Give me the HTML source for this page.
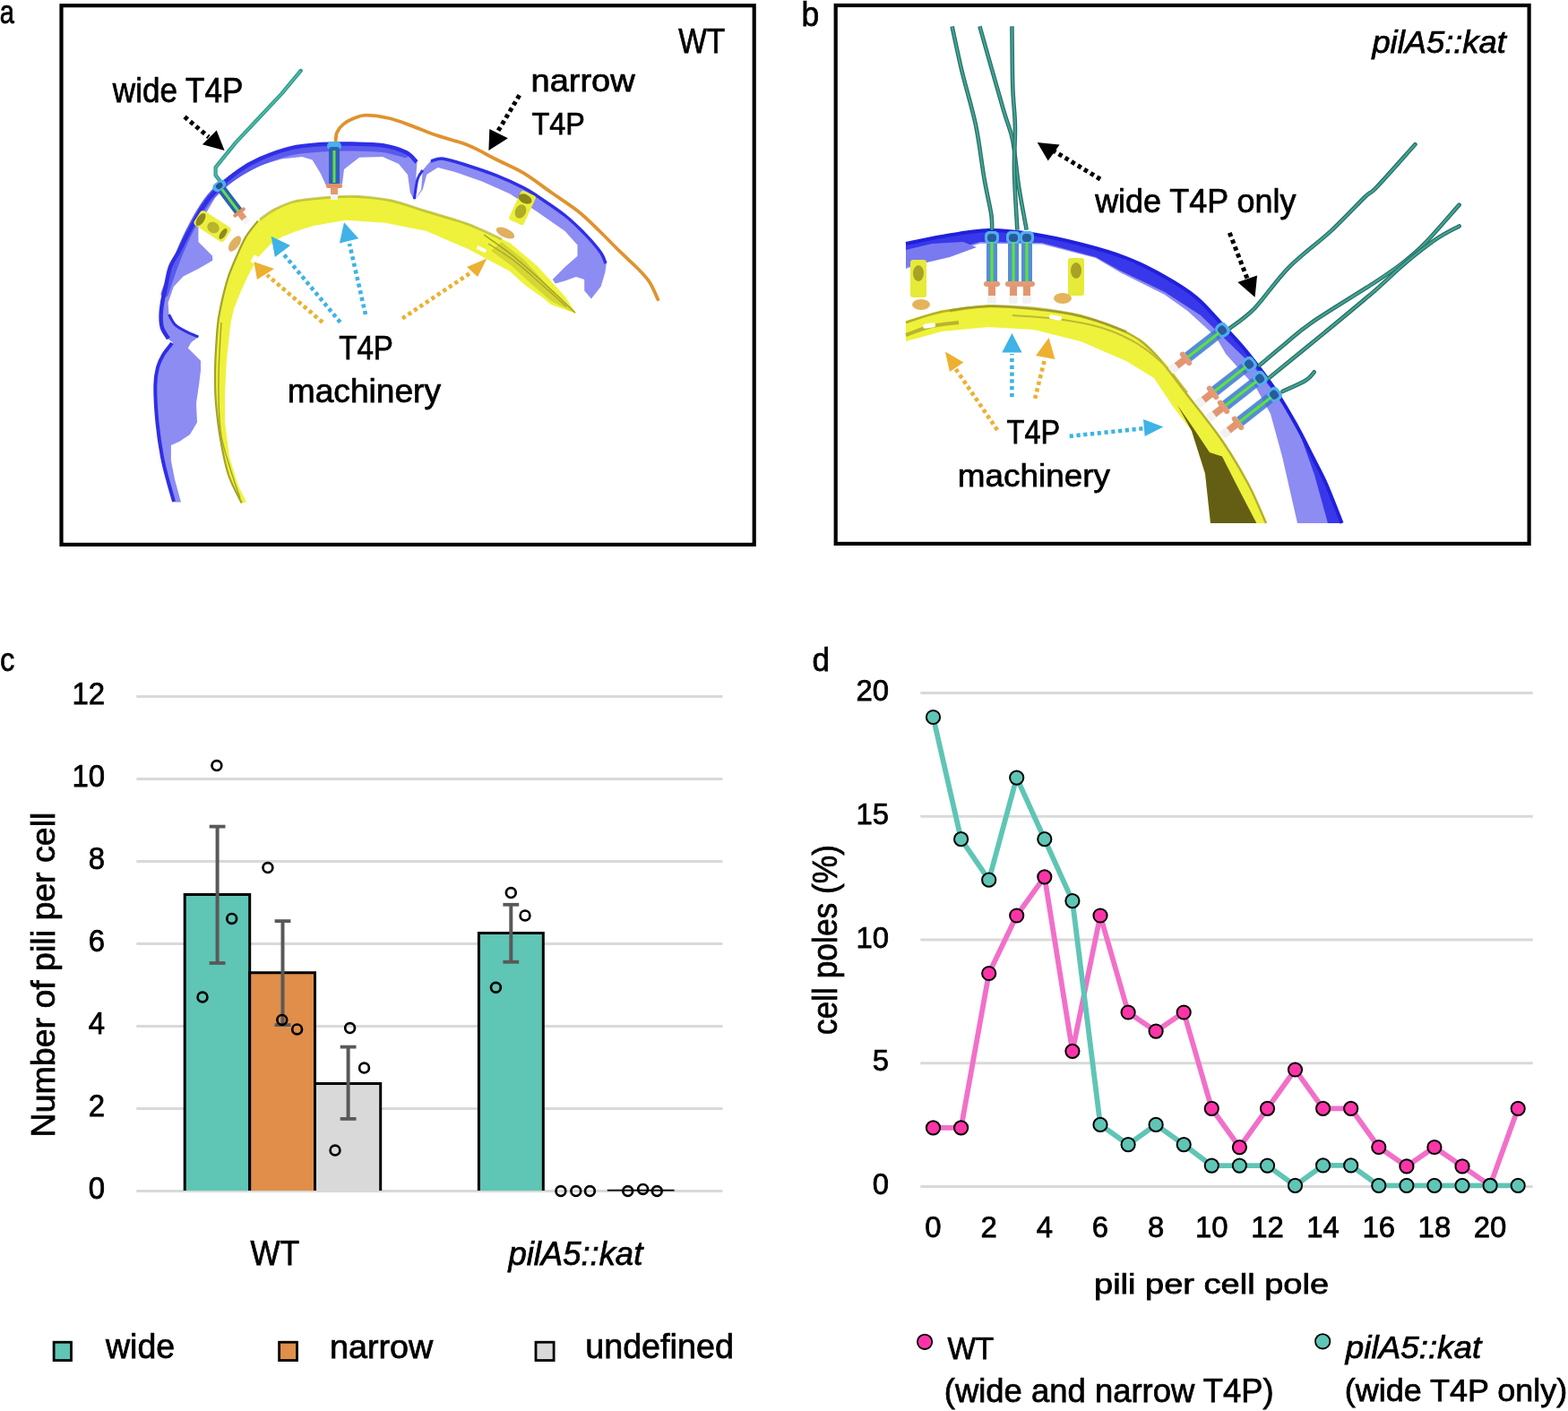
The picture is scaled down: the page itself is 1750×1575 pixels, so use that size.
<!DOCTYPE html>
<html><head><meta charset="utf-8"><title>Figure</title>
<style>html,body{margin:0;padding:0;background:#fff;} svg{display:block;}</style></head>
<body><svg width="1750" height="1575" viewBox="0 0 1750 1575" style="font-family:'Liberation Sans', sans-serif;fill:#000"><style>text{stroke:#000;stroke-width:0.75px;paint-order:stroke}</style>
<rect width="1750" height="1575" fill="#fff"/>
<polygon points="194.3,560.6 188.0,540.0 182.0,515.0 178.0,490.0 175.4,471.0 173.3,440.0 173.3,420.0 174.2,413.5 182.2,395.7 192.9,382.3 186.7,377.9 181.4,369.0 179.6,355.6 181.4,337.8 184.9,320.0 190.2,297.8 200.0,280.0 209.4,261.4 218.0,245.0 226.6,230.6 242.0,211.7 266.0,191.1 290.0,177.4 324.3,165.4 358.6,161.1 392.9,160.6 427.1,162.3 453.1,170.1 465.5,180.9 462.4,224.1 470.1,211.7 471.7,190.1 480.9,179.3 494.8,176.2 522.6,184.0 553.4,194.7 584.3,208.6 599.7,217.9 630.6,239.5 653.7,261.1 670.7,281.2 676.9,293.5 675.3,304.3 670.7,319.7 659.9,333.6 652.2,324.4 652.2,312.0 642.9,308.9 630.6,313.6 619.8,316.6 616.7,312.0 630.6,298.1 644.5,285.8 644.5,273.4 630.6,258.0 599.7,236.4 568.9,216.3 538.0,202.5 507.1,191.7 488.6,187.0 476.3,194.7 471.7,211.7 462.4,224.1 457.8,214.8 455.0,195.0 445.0,183.0 427.0,175.0 401.0,175.7 384.0,189.0 382.0,205.0 375.0,208.0 363.7,206.6 357.7,193.4 348.6,178.6 337.1,175.1 314.3,177.4 291.4,184.3 268.6,195.7 251.4,209.4 240.0,220.9 230.0,238.0 221.4,252.9 221.4,270.0 236.9,285.4 237.4,290.7 222.3,299.6 204.5,308.5 193.8,320.0 187.6,337.8 188.5,351.2 195.6,362.7 208.9,370.7 221.4,376.1 213.4,382.3 209.8,388.5 217.8,396.5 224.0,402.8 224.0,413.5 222.0,430.0 219.0,450.0 220.0,471.4 212.0,485.0 200.0,493.0 190.9,497.0 190.9,514.3 195.0,535.0 202.0,560.6" fill="#8c8cf3"/>
<path d="M183.7,328.0 C185.7,322.3 191.4,305.0 195.7,294.0 C200.0,283.0 204.2,272.5 209.4,262.0 C214.6,251.5 221.2,239.3 226.6,231.0 C232.0,222.7 235.4,218.2 242.0,212.0 C248.6,205.8 258.0,199.2 266.0,194.0 C274.0,188.8 280.3,185.1 290.0,181.0 C299.7,176.9 312.6,172.1 324.0,169.5 C335.4,166.9 347.1,166.3 358.6,165.5 C370.1,164.7 381.5,164.4 392.9,164.5 C404.3,164.6 417.1,164.8 427.0,166.0 C436.9,167.2 447.8,171.0 452.0,172.0" fill="none" stroke="#5a5aee" stroke-width="8" stroke-linecap="round"/>
<path d="M194.0,560.0 C192.0,552.5 185.1,529.8 182.0,515.0 C178.9,500.2 176.8,485.2 175.4,471.0 C174.0,456.8 173.2,440.2 173.3,430.0 C173.4,419.8 174.5,415.7 176.0,410.0 C177.5,404.3 179.5,400.5 182.2,396.0 C184.9,391.5 190.4,385.2 192.0,383.0" fill="none" stroke="#2f2fe4" stroke-width="4"/>
<path d="M188.0,378.0 C186.8,376.0 182.4,370.3 181.0,366.0 C179.6,361.7 179.5,357.0 179.6,352.0 C179.7,347.0 180.5,341.3 181.4,336.0 C182.3,330.7 183.6,326.3 185.0,320.0 C186.4,313.7 187.5,304.7 190.0,298.0 C192.5,291.3 196.8,286.1 200.0,280.0 C203.2,273.9 205.0,269.6 209.4,261.4 C213.8,253.2 221.2,238.9 226.6,230.6 C232.0,222.3 235.4,218.3 242.0,211.7 C248.6,205.1 258.0,196.8 266.0,191.1 C274.0,185.4 280.3,181.7 290.0,177.4 C299.7,173.1 312.9,168.1 324.3,165.4 C335.7,162.7 347.2,161.9 358.6,161.1 C370.0,160.3 381.5,160.4 392.9,160.6 C404.3,160.8 417.1,160.7 427.1,162.3 C437.1,163.9 446.8,167.0 453.1,170.1 C459.4,173.2 463.0,179.2 465.0,181.0" fill="none" stroke="#2f2fe4" stroke-width="4.5"/>
<path d="M481.0,180.0 C483.3,179.5 487.9,176.4 494.8,177.2 C501.7,178.0 512.8,181.9 522.6,185.0 C532.4,188.1 543.1,191.6 553.4,195.7 C563.7,199.8 576.6,205.7 584.3,209.6 C592.0,213.5 592.0,213.8 599.7,218.9 C607.4,224.1 621.6,233.3 630.6,240.5 C639.6,247.7 647.0,255.2 653.7,262.1 C660.4,269.1 667.0,276.9 670.7,282.2 C674.4,287.5 675.1,292.0 676.0,294.0" fill="none" stroke="#2f2fe4" stroke-width="3.5"/>
<path d="M188.5,351.0 C189.7,352.9 192.2,359.4 195.6,362.7 C199.0,366.0 204.6,368.5 208.9,370.7 C213.2,372.9 219.3,375.2 221.4,376.1" fill="none" stroke="#2f2fe4" stroke-width="3"/>
<path d="M462.4,222.0 C463.0,218.3 464.4,205.3 466.0,200.0 C467.6,194.7 470.8,191.7 471.7,190.0" fill="none" stroke="#2f2fe4" stroke-width="3"/>
<polygon points="269.7,561.4 255.0,530.0 246.0,490.0 241.0,450.0 240.0,420.0 241.0,390.0 243.3,360.0 247.8,335.6 254.9,308.9 263.8,286.7 274.4,264.4 287.8,246.7 305.6,233.3 330.0,223.6 372.0,219.0 400.0,218.5 437.0,223.0 476.0,235.0 522.6,249.3 568.9,271.0 599.7,297.0 630.6,331.0 642.9,350.0 642.9,350.0 615.0,340.0 607.4,333.6 585.7,318.0 568.9,302.8 545.0,290.0 522.6,278.1 476.3,258.0 430.0,248.7 385.7,245.7 350.0,252.0 330.0,258.2 314.4,264.4 301.1,273.3 287.8,287.6 276.2,308.9 268.2,326.7 261.1,344.4 257.6,360.0 253.0,400.0 251.0,440.0 251.0,471.0 256.0,510.0 265.0,540.0 274.9,560.6" fill="#eef23a"/>
<path d="M269.7,561.4 C267.2,556.2 258.9,541.9 255.0,530.0 C251.1,518.1 248.3,503.3 246.0,490.0 C243.7,476.7 242.0,461.7 241.0,450.0 C240.0,438.3 240.0,430.0 240.0,420.0 C240.0,410.0 240.4,400.0 241.0,390.0 C241.6,380.0 242.2,369.1 243.3,360.0 C244.4,350.9 245.9,344.1 247.8,335.6 C249.7,327.1 252.2,317.0 254.9,308.9 C257.6,300.8 260.6,294.1 263.8,286.7 C267.1,279.3 270.4,271.1 274.4,264.4 C278.4,257.7 285.6,249.6 287.8,246.7" fill="none" stroke="#a3a22a" stroke-width="2.2"/>
<path d="M290.0,245.0 C292.6,243.2 298.9,237.7 305.6,234.3 C312.3,230.9 318.9,227.0 330.0,224.6 C341.1,222.2 360.3,220.8 372.0,220.0 C383.7,219.2 389.2,218.8 400.0,219.5 C410.8,220.2 424.3,221.2 437.0,224.0 C449.7,226.8 461.7,231.6 476.0,236.0 C490.3,240.4 508.6,245.1 522.6,250.3 C536.6,255.5 553.8,264.2 560.0,267.0" fill="none" stroke="#a3a22a" stroke-width="3" stroke-opacity="0.55"/>
<polygon points="560.0,270.0 585.0,290.0 605.0,312.0 625.0,334.0 642.9,350.0 615.0,336.0 592.0,316.0 570.0,296.0 548.0,280.0" fill="#a3a22a" fill-opacity="0.35"/>
<path d="M540.0,262.0 C544.7,265.3 558.8,274.8 568.0,282.0 C577.2,289.2 586.3,297.3 595.0,305.0 C603.7,312.7 612.2,320.7 620.0,328.0 C627.8,335.3 638.3,345.5 642.0,349.0" fill="none" stroke="#a3a22a" stroke-width="1.5"/>
<path d="M545.0,272.0 C550.0,275.3 565.0,284.3 575.0,292.0 C585.0,299.7 595.5,309.7 605.0,318.0 C614.5,326.3 627.5,338.0 632.0,342.0" fill="none" stroke="#a3a22a" stroke-width="1.2"/>
<path d="M247.0,360.0 C246.5,370.0 244.2,400.0 244.0,420.0 C243.8,440.0 244.0,463.3 246.0,480.0 C248.0,496.7 252.3,507.3 256.0,520.0 C259.7,532.7 266.0,550.0 268.0,556.0" fill="none" stroke="#a3a22a" stroke-width="1.4"/>
<rect x="280" y="287" width="9" height="5" fill="#fff" transform="rotate(-60 284 290)"/>
<rect x="532" y="276" width="11" height="4" fill="#fff" transform="rotate(25 537 278)"/>
<polyline points="335.7,78.9 314.3,104.6 288.6,132.0 262.9,159.4 240.6,186.9 240.6,195.4 245.7,202.3" fill="none" stroke="#2f8f82" stroke-width="4.2" stroke-linejoin="round" stroke-linecap="round"/>
<polyline points="335.7,78.9 314.3,104.6 288.6,132.0 262.9,159.4 240.6,186.9 240.6,195.4 245.7,202.3" fill="none" stroke="#45bba8" stroke-width="2.2" stroke-linejoin="round"/>
<path d="M374.5,160.0 C374.8,158.0 374.6,151.5 376.0,148.0 C377.4,144.5 379.7,141.6 382.9,138.9 C386.1,136.2 390.7,133.7 395.0,132.0 C399.3,130.3 402.1,128.6 408.6,128.6 C415.2,128.6 425.7,130.0 434.3,132.0 C442.9,134.0 451.7,137.6 460.0,140.6 C468.3,143.6 473.6,146.4 484.0,150.0 C494.4,153.6 511.0,157.7 522.6,162.3 C534.2,166.9 543.1,172.7 553.4,177.8 C563.7,183.0 574.0,187.0 584.3,193.2 C594.6,199.4 604.9,207.6 615.2,214.8 C625.5,222.0 637.0,229.2 646.0,236.4 C655.0,243.6 661.5,250.5 669.2,258.0 C676.9,265.5 685.2,274.2 692.3,281.2 C699.4,288.2 706.5,294.4 712.0,300.0 C717.5,305.6 721.3,309.3 725.0,315.0 C728.7,320.7 732.8,331.1 734.3,334.3" fill="none" stroke="#e0922e" stroke-width="3.8" stroke-linecap="round"/>
<rect x="365" y="158" width="16" height="10" rx="5" fill="#4ab0ea"/>
<rect x="367" y="164" width="12" height="42" rx="3" fill="#2e5fb8"/>
<rect x="371.5" y="168" width="3" height="36" fill="#62e040"/>
<rect x="364" y="205" width="18" height="5" rx="2" fill="#e0906a"/>
<rect x="369" y="209" width="8" height="9" fill="#e29a70"/>
<rect x="369" y="217" width="8" height="6" fill="#f4f4f4"/>
<g transform="rotate(-37 258 225)"><rect x="253" y="205" width="10" height="35" rx="3" fill="#2e5fb8"/><rect x="256.5" y="208" width="3" height="32" fill="#62e040"/><rect x="250" y="198" width="16" height="10" rx="5" fill="#4ab0ea"/><rect x="254" y="200" width="8" height="6" rx="3" fill="#2a4f90"/><rect x="250" y="238" width="16" height="4" rx="2" fill="#e0906a"/><rect x="254.5" y="241" width="7" height="9" fill="#e29a70"/><rect x="254.5" y="249" width="7" height="6" fill="#f4f4f4"/></g>
<rect x="217" y="243" width="40" height="19" rx="4" fill="#ecef3c" transform="rotate(33 237 252.5)"/>
<ellipse cx="224" cy="245" rx="4" ry="8" fill="#8e8a1e" transform="rotate(33 224 245)"/>
<ellipse cx="238" cy="254" rx="7" ry="6" fill="#b8b42c" transform="rotate(33 238 254)"/>
<ellipse cx="249" cy="261" rx="3" ry="7" fill="#8e8a1e" transform="rotate(33 249 261)"/>
<ellipse cx="262" cy="272" rx="10" ry="5" fill="#e0b060" transform="rotate(-55 262 272)"/>
<rect x="574" y="214" width="18" height="36" rx="3" fill="#ecef3c" transform="rotate(25 583 232)"/>
<ellipse cx="586" cy="222" rx="8" ry="5" fill="#8a861c" transform="rotate(25 586 222)"/>
<ellipse cx="581" cy="236" rx="6" ry="8" fill="#b0ac26" transform="rotate(25 581 236)"/>
<ellipse cx="564" cy="260" rx="11" ry="5" fill="#e0b060" transform="rotate(25 564 260)"/>
<line x1="206" y1="130.4" x2="233" y2="153" stroke="#000" stroke-width="5" stroke-dasharray="4.5 3.8"/>
<polygon points="250.6,168.0 225.9,161.2 241.7,145.4" fill="#000"/>
<line x1="579.7" y1="106.3" x2="556" y2="146" stroke="#000" stroke-width="5" stroke-dasharray="4.5 3.8"/>
<polygon points="545.4,168.0 546.3,144.0 566.9,154.3" fill="#000"/>
<line x1="379.7" y1="359.7" x2="316" y2="283" stroke="#3fb3e6" stroke-width="4.6" stroke-dasharray="4.2 3.6"/>
<polygon points="302.6,263.7 306.9,286.9 324.0,274.0" fill="#3fb3e6"/>
<line x1="408" y1="351.1" x2="390" y2="272" stroke="#3fb3e6" stroke-width="4.6" stroke-dasharray="4.2 3.6"/>
<polygon points="384.0,248.3 378.9,271.4 400.3,266.3" fill="#3fb3e6"/>
<line x1="360" y1="359.7" x2="298" y2="307" stroke="#edb030" stroke-width="4.6" stroke-dasharray="4.2 3.6"/>
<polygon points="283.4,292.3 287.0,312.0 306.0,300.0" fill="#edb030"/>
<line x1="449.1" y1="355.4" x2="526" y2="304" stroke="#edb030" stroke-width="4.6" stroke-dasharray="4.2 3.6"/>
<polygon points="543.4,288.6 521.1,298.0 533.1,309.1" fill="#edb030"/>
<polygon points="1011.0,272.0 1051.0,264.0 1103.0,257.0 1154.0,261.5 1206.0,272.5 1257.0,288.0 1300.0,309.0 1335.0,332.0 1362.0,360.0 1385.0,385.0 1405.0,410.0 1425.0,438.0 1447.0,475.0 1465.0,510.0 1480.0,540.0 1497.6,584.0 1448.0,584.0 1431.0,509.5 1418.0,462.0 1402.0,433.0 1368.0,395.0 1357.0,376.0 1326.0,347.6 1300.0,329.0 1250.0,304.0 1223.0,288.0 1163.0,272.6 1094.0,271.7 1051.0,284.6 1011.0,300.0" fill="#8c8cf3"/>
<polygon points="1011.0,272.0 1051.0,264.0 1103.0,257.0 1154.0,261.5 1206.0,272.5 1257.0,288.0 1300.0,309.0 1335.0,332.0 1362.0,360.0 1385.0,385.0 1405.0,410.0 1425.0,438.0 1447.0,475.0 1465.0,510.0 1480.0,540.0 1497.6,584.0 1482.0,584.0 1467.0,530.0 1451.0,485.0 1430.0,448.0 1400.0,410.0 1372.0,383.0 1340.0,352.0 1300.0,326.0 1250.0,302.0 1223.0,287.0 1163.0,271.0 1094.0,270.0 1051.0,282.0 1011.0,297.0" fill="#3838ea"/>
<path d="M1011.0,272.0 C1017.7,270.7 1035.7,266.5 1051.0,264.0 C1066.3,261.5 1085.8,257.4 1103.0,257.0 C1120.2,256.6 1136.8,258.9 1154.0,261.5 C1171.2,264.1 1188.8,268.1 1206.0,272.5 C1223.2,276.9 1241.3,281.9 1257.0,288.0 C1272.7,294.1 1287.0,301.7 1300.0,309.0 C1313.0,316.3 1324.7,323.5 1335.0,332.0 C1345.3,340.5 1353.7,351.2 1362.0,360.0 C1370.3,368.8 1377.8,376.7 1385.0,385.0 C1392.2,393.3 1398.3,401.2 1405.0,410.0 C1411.7,418.8 1418.0,427.2 1425.0,438.0 C1432.0,448.8 1440.3,463.0 1447.0,475.0 C1453.7,487.0 1459.5,499.2 1465.0,510.0 C1470.5,520.8 1474.6,527.7 1480.0,540.0 C1485.4,552.3 1494.7,576.7 1497.6,584.0" fill="none" stroke="#2020dc" stroke-width="4"/>
<polygon points="1011.0,279.0 1040.0,272.0 1075.0,270.0 1090.0,276.0 1060.0,287.0 1030.0,294.0 1011.0,298.0" fill="#7a7af0"/>
<polygon points="1011.0,358.0 1051.0,346.0 1103.0,340.0 1154.0,343.0 1206.0,351.0 1257.0,369.0 1288.0,392.0 1310.0,416.0 1326.0,440.0 1345.0,466.0 1364.0,490.0 1393.0,538.0 1414.0,584.0 1351.0,584.0 1345.0,528.6 1330.0,481.0 1310.0,455.0 1288.0,422.0 1257.0,403.0 1206.0,381.0 1154.0,368.0 1103.0,365.0 1051.0,370.0 1011.0,381.0" fill="#eef23a"/>
<polygon points="1314.0,452.0 1332.0,478.0 1350.0,505.0 1364.0,509.5 1383.3,547.6 1402.4,584.0 1351.0,584.0 1345.0,528.6 1330.0,481.0" fill="#645e14"/>
<path d="M1011.0,360.0 C1017.7,358.0 1035.7,351.0 1051.0,348.0 C1066.3,345.0 1085.8,342.5 1103.0,342.0 C1120.2,341.5 1136.8,343.2 1154.0,345.0 C1171.2,346.8 1188.8,348.7 1206.0,353.0 C1223.2,357.3 1243.3,364.2 1257.0,371.0 C1270.7,377.8 1276.5,382.2 1288.0,394.0 C1299.5,405.8 1313.3,425.7 1326.0,442.0 C1338.7,458.3 1352.8,475.7 1364.0,492.0 C1375.2,508.3 1384.8,524.7 1393.0,540.0 C1401.2,555.3 1409.7,576.7 1413.0,584.0" fill="none" stroke="#b4b02c" stroke-width="2.5"/>
<path d="M1011.0,374.0 C1015.8,372.3 1030.2,366.3 1040.0,364.0 C1049.8,361.7 1065.0,360.7 1070.0,360.0" fill="none" stroke="#b8b430" stroke-width="4"/>
<path d="M1060.0,347.0 C1067.2,346.1 1087.3,342.0 1103.0,341.5 C1118.7,341.0 1136.8,342.2 1154.0,344.0 C1171.2,345.8 1188.8,348.2 1206.0,352.5 C1223.2,356.8 1248.5,367.1 1257.0,370.0" fill="none" stroke="#8a8620" stroke-width="3" stroke-opacity="0.45"/>
<path d="M1130.0,352.0 C1138.3,352.7 1163.3,353.7 1180.0,356.0 C1196.7,358.3 1215.0,361.3 1230.0,366.0 C1245.0,370.7 1258.3,377.0 1270.0,384.0 C1281.7,391.0 1290.8,399.0 1300.0,408.0 C1309.2,417.0 1320.8,433.0 1325.0,438.0" fill="none" stroke="#bdb838" stroke-width="2"/>
<rect x="1030" y="361" width="14" height="5" rx="2" fill="#fff" transform="rotate(-8 1037 363)"/>
<rect x="1171" y="352" width="14" height="5" rx="2" fill="#fff" transform="rotate(10 1178 354)"/>
<path d="M1062.6,29.4 C1064.4,37.8 1069.3,61.6 1073.7,80.0 C1078.1,98.4 1084.9,120.0 1089.1,140.0 C1093.2,160.0 1095.7,183.4 1098.6,200.0 C1101.5,216.6 1104.9,230.0 1106.3,239.4 C1107.7,248.8 1107.0,253.7 1107.1,256.6" fill="none" stroke="#2b6c63" stroke-width="4.6" stroke-linecap="butt"/>
<path d="M1062.6,29.4 C1064.4,37.8 1069.3,61.6 1073.7,80.0 C1078.1,98.4 1084.9,120.0 1089.1,140.0 C1093.2,160.0 1095.7,183.4 1098.6,200.0 C1101.5,216.6 1104.9,230.0 1106.3,239.4 C1107.7,248.8 1107.0,253.7 1107.1,256.6" fill="none" stroke="#3fa595" stroke-width="2.2" stroke-linecap="butt"/>
<path d="M1093.4,29.4 C1097.8,45.0 1113.8,101.6 1120.0,122.9 C1126.2,144.2 1127.5,142.8 1130.3,157.1 C1133.1,171.4 1134.5,192.0 1137.1,208.6 C1139.7,225.2 1144.3,248.6 1145.7,256.6" fill="none" stroke="#2b6c63" stroke-width="4.6" stroke-linecap="butt"/>
<path d="M1093.4,29.4 C1097.8,45.0 1113.8,101.6 1120.0,122.9 C1126.2,144.2 1127.5,142.8 1130.3,157.1 C1133.1,171.4 1134.5,192.0 1137.1,208.6 C1139.7,225.2 1144.3,248.6 1145.7,256.6" fill="none" stroke="#3fa595" stroke-width="2.2" stroke-linecap="butt"/>
<path d="M1129.4,29.4 C1129.6,40.7 1129.7,78.7 1130.3,97.1 C1130.9,115.5 1132.6,124.3 1132.9,140.0 C1133.2,155.7 1131.6,172.0 1132.0,191.4 C1132.4,210.8 1134.8,245.7 1135.4,256.6" fill="none" stroke="#2b6c63" stroke-width="4.6" stroke-linecap="butt"/>
<path d="M1129.4,29.4 C1129.6,40.7 1129.7,78.7 1130.3,97.1 C1130.9,115.5 1132.6,124.3 1132.9,140.0 C1133.2,155.7 1131.6,172.0 1132.0,191.4 C1132.4,210.8 1134.8,245.7 1135.4,256.6" fill="none" stroke="#3fa595" stroke-width="2.2" stroke-linecap="butt"/>
<path d="M1372.3,366.6 C1376.9,362.9 1389.0,355.7 1400.0,344.4 C1411.0,333.1 1423.8,313.3 1438.1,298.8 C1452.4,284.3 1471.4,270.8 1485.7,257.6 C1500.0,244.4 1515.3,227.6 1523.8,219.5 C1532.3,211.4 1527.2,218.6 1536.5,208.9 C1545.8,199.2 1572.2,169.2 1579.4,161.3" fill="none" stroke="#2b6c63" stroke-width="4.6" stroke-linecap="round"/>
<path d="M1372.3,366.6 C1376.9,362.9 1389.0,355.7 1400.0,344.4 C1411.0,333.1 1423.8,313.3 1438.1,298.8 C1452.4,284.3 1471.4,270.8 1485.7,257.6 C1500.0,244.4 1515.3,227.6 1523.8,219.5 C1532.3,211.4 1527.2,218.6 1536.5,208.9 C1545.8,199.2 1572.2,169.2 1579.4,161.3" fill="none" stroke="#3fa595" stroke-width="2.2" stroke-linecap="round"/>
<path d="M1405.7,407.7 C1410.4,403.8 1424.4,391.9 1434.0,384.0 C1443.6,376.1 1447.0,371.7 1463.5,360.3 C1480.0,348.9 1516.4,327.0 1533.3,315.9 C1550.2,304.8 1555.6,301.1 1565.1,293.7 C1574.6,286.3 1579.9,282.2 1590.5,271.4 C1601.1,260.5 1622.2,235.7 1628.6,228.6" fill="none" stroke="#2b6c63" stroke-width="4.6" stroke-linecap="round"/>
<path d="M1405.7,407.7 C1410.4,403.8 1424.4,391.9 1434.0,384.0 C1443.6,376.1 1447.0,371.7 1463.5,360.3 C1480.0,348.9 1516.4,327.0 1533.3,315.9 C1550.2,304.8 1555.6,301.1 1565.1,293.7 C1574.6,286.3 1579.9,282.2 1590.5,271.4 C1601.1,260.5 1622.2,235.7 1628.6,228.6" fill="none" stroke="#3fa595" stroke-width="2.2" stroke-linecap="round"/>
<path d="M1415.9,422.2 C1426.0,414.0 1456.6,389.1 1476.2,373.0 C1495.8,356.9 1518.0,338.6 1533.3,325.4 C1548.6,312.2 1556.6,303.5 1568.3,293.7 C1580.0,283.9 1593.2,273.6 1603.2,266.7 C1613.2,259.8 1624.4,254.8 1628.6,252.4" fill="none" stroke="#2b6c63" stroke-width="4.6" stroke-linecap="round"/>
<path d="M1415.9,422.2 C1426.0,414.0 1456.6,389.1 1476.2,373.0 C1495.8,356.9 1518.0,338.6 1533.3,325.4 C1548.6,312.2 1556.6,303.5 1568.3,293.7 C1580.0,283.9 1593.2,273.6 1603.2,266.7 C1613.2,259.8 1624.4,254.8 1628.6,252.4" fill="none" stroke="#3fa595" stroke-width="2.2" stroke-linecap="round"/>
<path d="M1431.4,437.0 C1435.7,435.0 1451.2,428.4 1457.1,424.8 C1463.0,421.2 1465.1,416.9 1466.7,415.3" fill="none" stroke="#2b6c63" stroke-width="4.6" stroke-linecap="round"/>
<path d="M1431.4,437.0 C1435.7,435.0 1451.2,428.4 1457.1,424.8 C1463.0,421.2 1465.1,416.9 1466.7,415.3" fill="none" stroke="#3fa595" stroke-width="2.2" stroke-linecap="round"/>
<g transform="translate(1107 258) rotate(0)"><rect x="-8" y="0" width="16" height="14" rx="5" fill="#4fb0ea"/><rect x="-5" y="3" width="10" height="9" rx="4" fill="#2a5aa0"/><rect x="-6" y="14" width="12" height="42" fill="#3a78d0" opacity="0.85"/><rect x="-1.6" y="12" width="3.2" height="46" fill="#5ce23c"/><rect x="-9" y="56" width="18" height="6" rx="3" fill="#e39a76"/><rect x="-4" y="61" width="8" height="12" fill="#e29670"/><rect x="-5" y="72" width="10" height="9" rx="2" fill="#f2f2f2"/></g>
<g transform="translate(1131 258) rotate(0)"><rect x="-8" y="0" width="16" height="14" rx="5" fill="#4fb0ea"/><rect x="-5" y="3" width="10" height="9" rx="4" fill="#2a5aa0"/><rect x="-6" y="14" width="12" height="42" fill="#3a78d0" opacity="0.85"/><rect x="-1.6" y="12" width="3.2" height="46" fill="#5ce23c"/><rect x="-9" y="56" width="18" height="6" rx="3" fill="#e39a76"/><rect x="-4" y="61" width="8" height="12" fill="#e29670"/><rect x="-5" y="72" width="10" height="9" rx="2" fill="#f2f2f2"/></g>
<g transform="translate(1146 258) rotate(0)"><rect x="-8" y="0" width="16" height="14" rx="5" fill="#4fb0ea"/><rect x="-5" y="3" width="10" height="9" rx="4" fill="#2a5aa0"/><rect x="-6" y="14" width="12" height="42" fill="#3a78d0" opacity="0.85"/><rect x="-1.6" y="12" width="3.2" height="46" fill="#5ce23c"/><rect x="-9" y="56" width="18" height="6" rx="3" fill="#e39a76"/><rect x="-4" y="61" width="8" height="12" fill="#e29670"/><rect x="-5" y="72" width="10" height="9" rx="2" fill="#f2f2f2"/></g>
<g transform="translate(1370 364) rotate(52)"><rect x="-8" y="0" width="16" height="14" rx="5" fill="#4fb0ea"/><rect x="-5" y="3" width="10" height="9" rx="4" fill="#2a5aa0"/><rect x="-6" y="14" width="12" height="42" fill="#3a78d0" opacity="0.85"/><rect x="-1.6" y="12" width="3.2" height="46" fill="#5ce23c"/><rect x="-9" y="56" width="18" height="6" rx="3" fill="#e39a76"/><rect x="-4" y="61" width="8" height="12" fill="#e29670"/><rect x="-5" y="72" width="10" height="9" rx="2" fill="#f2f2f2"/></g>
<g transform="translate(1400 402) rotate(52)"><rect x="-8" y="0" width="16" height="14" rx="5" fill="#4fb0ea"/><rect x="-5" y="3" width="10" height="9" rx="4" fill="#2a5aa0"/><rect x="-6" y="14" width="12" height="42" fill="#3a78d0" opacity="0.85"/><rect x="-1.6" y="12" width="3.2" height="46" fill="#5ce23c"/><rect x="-9" y="56" width="18" height="6" rx="3" fill="#e39a76"/><rect x="-4" y="61" width="8" height="12" fill="#e29670"/><rect x="-5" y="72" width="10" height="9" rx="2" fill="#f2f2f2"/></g>
<g transform="translate(1412 418) rotate(52)"><rect x="-8" y="0" width="16" height="14" rx="5" fill="#4fb0ea"/><rect x="-5" y="3" width="10" height="9" rx="4" fill="#2a5aa0"/><rect x="-6" y="14" width="12" height="42" fill="#3a78d0" opacity="0.85"/><rect x="-1.6" y="12" width="3.2" height="46" fill="#5ce23c"/><rect x="-9" y="56" width="18" height="6" rx="3" fill="#e39a76"/><rect x="-4" y="61" width="8" height="12" fill="#e29670"/><rect x="-5" y="72" width="10" height="9" rx="2" fill="#f2f2f2"/></g>
<g transform="translate(1428 436) rotate(52)"><rect x="-8" y="0" width="16" height="14" rx="5" fill="#4fb0ea"/><rect x="-5" y="3" width="10" height="9" rx="4" fill="#2a5aa0"/><rect x="-6" y="14" width="12" height="42" fill="#3a78d0" opacity="0.85"/><rect x="-1.6" y="12" width="3.2" height="46" fill="#5ce23c"/><rect x="-9" y="56" width="18" height="6" rx="3" fill="#e39a76"/><rect x="-4" y="61" width="8" height="12" fill="#e29670"/><rect x="-5" y="72" width="10" height="9" rx="2" fill="#f2f2f2"/></g>
<rect x="1016" y="290" width="18" height="42" rx="3" fill="#e6ea38"/>
<ellipse cx="1025" cy="305" rx="6" ry="9" fill="#a8a226"/>
<ellipse cx="1028" cy="340" rx="10" ry="6" fill="#e5b35a"/>
<rect x="1192" y="288" width="18" height="42" rx="3" fill="#e6ea38"/>
<ellipse cx="1201" cy="302" rx="6" ry="9" fill="#a8a226"/>
<ellipse cx="1186" cy="333" rx="10" ry="6" fill="#e5b35a"/>
<line x1="1228" y1="200" x2="1172" y2="166" stroke="#000" stroke-width="5" stroke-dasharray="4.5 3.8"/>
<polygon points="1157.7,158.9 1169.7,179.4 1182.6,161.4" fill="#000"/>
<line x1="1372.3" y1="259.9" x2="1394" y2="316" stroke="#000" stroke-width="5" stroke-dasharray="4.5 3.8"/>
<polygon points="1400.6,331.8 1381.3,315.1 1403.1,307.4" fill="#000"/>
<line x1="1113.1" y1="480" x2="1064" y2="408" stroke="#edb030" stroke-width="4.6" stroke-dasharray="4.2 3.6"/>
<polygon points="1054.9,392.6 1060.0,414.9 1075.4,404.6" fill="#edb030"/>
<line x1="1129.4" y1="443.1" x2="1129.4" y2="395" stroke="#3fb3e6" stroke-width="4.6" stroke-dasharray="4.2 3.6"/>
<polygon points="1129.4,372.0 1118.3,393.4 1140.6,393.4" fill="#3fb3e6"/>
<line x1="1155.1" y1="444.9" x2="1166" y2="401" stroke="#edb030" stroke-width="4.6" stroke-dasharray="4.2 3.6"/>
<polygon points="1170.6,377.1 1156.0,396.9 1177.4,401.1" fill="#edb030"/>
<line x1="1193.7" y1="486.9" x2="1278" y2="478" stroke="#3fb3e6" stroke-width="4.6" stroke-dasharray="4.2 3.6"/>
<polygon points="1298.3,476.6 1276.0,468.0 1277.7,486.9" fill="#3fb3e6"/>
<rect x="68.5" y="6.2" width="773.2" height="601.7" fill="none" stroke="#000" stroke-width="4.2"/>
<rect x="932.7" y="6.0" width="773.9" height="600.9" fill="none" stroke="#000" stroke-width="4.2"/>
<line x1="152.3" x2="806.4" y1="1329.5" y2="1329.5" stroke="#d9d9d9" stroke-width="3"/>
<line x1="152.3" x2="806.4" y1="1237.5" y2="1237.5" stroke="#d9d9d9" stroke-width="3"/>
<line x1="152.3" x2="806.4" y1="1145.5" y2="1145.5" stroke="#d9d9d9" stroke-width="3"/>
<line x1="152.3" x2="806.4" y1="1053.5" y2="1053.5" stroke="#d9d9d9" stroke-width="3"/>
<line x1="152.3" x2="806.4" y1="961.5" y2="961.5" stroke="#d9d9d9" stroke-width="3"/>
<line x1="152.3" x2="806.4" y1="869.5" y2="869.5" stroke="#d9d9d9" stroke-width="3"/>
<line x1="152.3" x2="806.4" y1="777.5" y2="777.5" stroke="#d9d9d9" stroke-width="3"/>
<rect x="206.2" y="998.4" width="72.5" height="330.6" fill="#5fc5b5"/>
<polyline points="206.2,1329 206.2,998.4 278.7,998.4 278.7,1329" fill="none" stroke="#000" stroke-width="3"/>
<rect x="278.7" y="1085.8" width="72.8" height="243.2" fill="#e08e4a"/>
<polyline points="278.7,1329 278.7,1085.8 351.5,1085.8 351.5,1329" fill="none" stroke="#000" stroke-width="3"/>
<rect x="351.5" y="1209.5" width="73.2" height="119.5" fill="#d9d9d9"/>
<polyline points="351.5,1329 351.5,1209.5 424.7,1209.5 424.7,1329" fill="none" stroke="#000" stroke-width="3"/>
<rect x="534.4" y="1041.5" width="71.9" height="287.5" fill="#5fc5b5"/>
<polyline points="534.4,1329 534.4,1041.5 606.3,1041.5 606.3,1329" fill="none" stroke="#000" stroke-width="3"/>
<line x1="677.8" x2="752.6" y1="1328.6" y2="1328.6" stroke="#000" stroke-width="1.6"/>
<line x1="242.6" x2="242.6" y1="922.6" y2="1075.0" stroke="#595959" stroke-width="4"/>
<line x1="233.7" x2="251.5" y1="922.6" y2="922.6" stroke="#595959" stroke-width="3.8"/>
<line x1="233.7" x2="251.5" y1="1075.0" y2="1075.0" stroke="#595959" stroke-width="3.8"/>
<line x1="315.5" x2="315.5" y1="1028.1" y2="1144.1" stroke="#595959" stroke-width="4"/>
<line x1="306.6" x2="324.4" y1="1028.1" y2="1028.1" stroke="#595959" stroke-width="3.8"/>
<line x1="306.6" x2="324.4" y1="1144.1" y2="1144.1" stroke="#595959" stroke-width="3.8"/>
<line x1="388.6" x2="388.6" y1="1168.6" y2="1248.9" stroke="#595959" stroke-width="4"/>
<line x1="379.7" x2="397.5" y1="1168.6" y2="1168.6" stroke="#595959" stroke-width="3.8"/>
<line x1="379.7" x2="397.5" y1="1248.9" y2="1248.9" stroke="#595959" stroke-width="3.8"/>
<line x1="570.3" x2="570.3" y1="1009.8" y2="1073.8" stroke="#595959" stroke-width="4"/>
<line x1="561.4" x2="579.2" y1="1009.8" y2="1009.8" stroke="#595959" stroke-width="3.8"/>
<line x1="561.4" x2="579.2" y1="1073.8" y2="1073.8" stroke="#595959" stroke-width="3.8"/>
<circle cx="241.9" cy="854.6" r="5.4" fill="none" stroke="#000" stroke-width="2.7"/>
<circle cx="258.7" cy="1025.4" r="5.4" fill="none" stroke="#000" stroke-width="2.7"/>
<circle cx="226.0" cy="1113.0" r="5.4" fill="none" stroke="#000" stroke-width="2.7"/>
<circle cx="298.9" cy="968.6" r="5.4" fill="none" stroke="#000" stroke-width="2.7"/>
<circle cx="314.8" cy="1138.4" r="5.4" fill="none" stroke="#000" stroke-width="2.7"/>
<circle cx="331.6" cy="1148.9" r="5.4" fill="none" stroke="#000" stroke-width="2.7"/>
<circle cx="390.6" cy="1147.6" r="5.4" fill="none" stroke="#000" stroke-width="2.7"/>
<circle cx="406.5" cy="1192.1" r="5.4" fill="none" stroke="#000" stroke-width="2.7"/>
<circle cx="374.0" cy="1284.1" r="5.4" fill="none" stroke="#000" stroke-width="2.7"/>
<circle cx="570.3" cy="996.6" r="5.4" fill="none" stroke="#000" stroke-width="2.7"/>
<circle cx="586.0" cy="1021.9" r="5.4" fill="none" stroke="#000" stroke-width="2.7"/>
<circle cx="553.4" cy="1102.3" r="5.4" fill="none" stroke="#000" stroke-width="2.7"/>
<circle cx="625.9" cy="1329.6" r="5.4" fill="none" stroke="#000" stroke-width="2.7"/>
<circle cx="642.8" cy="1329.6" r="5.4" fill="none" stroke="#000" stroke-width="2.7"/>
<circle cx="658.4" cy="1329.6" r="5.4" fill="none" stroke="#000" stroke-width="2.7"/>
<circle cx="700.7" cy="1329.6" r="5.4" fill="none" stroke="#000" stroke-width="2.7"/>
<circle cx="717.6" cy="1327.4" r="5.4" fill="none" stroke="#000" stroke-width="2.7"/>
<circle cx="733.3" cy="1329.6" r="5.4" fill="none" stroke="#000" stroke-width="2.7"/>
<text x="117.0" y="1337.5" font-size="34.5" text-anchor="end" textLength="18.3" lengthAdjust="spacingAndGlyphs">0</text>
<text x="117.0" y="1245.5" font-size="34.5" text-anchor="end" textLength="18.3" lengthAdjust="spacingAndGlyphs">2</text>
<text x="117.0" y="1153.5" font-size="34.5" text-anchor="end" textLength="18.3" lengthAdjust="spacingAndGlyphs">4</text>
<text x="117.0" y="1061.5" font-size="34.5" text-anchor="end" textLength="18.3" lengthAdjust="spacingAndGlyphs">6</text>
<text x="117.0" y="969.5" font-size="34.5" text-anchor="end" textLength="18.3" lengthAdjust="spacingAndGlyphs">8</text>
<text x="117.0" y="877.5" font-size="34.5" text-anchor="end" textLength="36.6" lengthAdjust="spacingAndGlyphs">10</text>
<text x="117.0" y="785.5" font-size="34.5" text-anchor="end" textLength="36.6" lengthAdjust="spacingAndGlyphs">12</text>
<rect x="60.1" y="1498.2" width="19.4" height="20.3" fill="#5fc5b5" stroke="#000" stroke-width="2.8"/>
<rect x="311.6" y="1498.2" width="19.9" height="20.3" fill="#e08e4a" stroke="#000" stroke-width="2.8"/>
<rect x="598.0" y="1498.2" width="20.1" height="20.3" fill="#d9d9d9" stroke="#000" stroke-width="2.8"/>
<line x1="1027.3" x2="1710.7" y1="1324.4" y2="1324.4" stroke="#d9d9d9" stroke-width="3"/>
<line x1="1027.3" x2="1710.7" y1="1186.7" y2="1186.7" stroke="#d9d9d9" stroke-width="3"/>
<line x1="1027.3" x2="1710.7" y1="1049.0" y2="1049.0" stroke="#d9d9d9" stroke-width="3"/>
<line x1="1027.3" x2="1710.7" y1="911.2" y2="911.2" stroke="#d9d9d9" stroke-width="3"/>
<line x1="1027.3" x2="1710.7" y1="773.5" y2="773.5" stroke="#d9d9d9" stroke-width="3"/>
<polyline points="1041.5,1258.9 1072.6,1258.9 1103.7,1086.5 1134.7,1022.0 1165.8,978.8 1196.9,1173.3 1228.0,1022.0 1259.1,1130.0 1290.1,1151.1 1321.2,1130.0 1352.3,1237.3 1383.4,1280.6 1414.5,1237.3 1445.5,1194.0 1476.6,1237.3 1507.7,1237.3 1538.8,1280.5 1569.9,1301.9 1600.9,1280.5 1632.0,1301.9 1663.1,1323.3 1694.2,1237.3" fill="none" stroke="#f26fc9" stroke-width="5.8" stroke-linejoin="round"/>
<circle cx="1041.5" cy="1258.9" r="7.6" fill="#fd34a8" stroke="#000" stroke-width="2"/>
<circle cx="1072.6" cy="1258.9" r="7.6" fill="#fd34a8" stroke="#000" stroke-width="2"/>
<circle cx="1103.7" cy="1086.5" r="7.6" fill="#fd34a8" stroke="#000" stroke-width="2"/>
<circle cx="1134.7" cy="1022.0" r="7.6" fill="#fd34a8" stroke="#000" stroke-width="2"/>
<circle cx="1165.8" cy="978.8" r="7.6" fill="#fd34a8" stroke="#000" stroke-width="2"/>
<circle cx="1196.9" cy="1173.3" r="7.6" fill="#fd34a8" stroke="#000" stroke-width="2"/>
<circle cx="1228.0" cy="1022.0" r="7.6" fill="#fd34a8" stroke="#000" stroke-width="2"/>
<circle cx="1259.1" cy="1130.0" r="7.6" fill="#fd34a8" stroke="#000" stroke-width="2"/>
<circle cx="1290.1" cy="1151.1" r="7.6" fill="#fd34a8" stroke="#000" stroke-width="2"/>
<circle cx="1321.2" cy="1130.0" r="7.6" fill="#fd34a8" stroke="#000" stroke-width="2"/>
<circle cx="1352.3" cy="1237.3" r="7.6" fill="#fd34a8" stroke="#000" stroke-width="2"/>
<circle cx="1383.4" cy="1280.6" r="7.6" fill="#fd34a8" stroke="#000" stroke-width="2"/>
<circle cx="1414.5" cy="1237.3" r="7.6" fill="#fd34a8" stroke="#000" stroke-width="2"/>
<circle cx="1445.5" cy="1194.0" r="7.6" fill="#fd34a8" stroke="#000" stroke-width="2"/>
<circle cx="1476.6" cy="1237.3" r="7.6" fill="#fd34a8" stroke="#000" stroke-width="2"/>
<circle cx="1507.7" cy="1237.3" r="7.6" fill="#fd34a8" stroke="#000" stroke-width="2"/>
<circle cx="1538.8" cy="1280.5" r="7.6" fill="#fd34a8" stroke="#000" stroke-width="2"/>
<circle cx="1569.9" cy="1301.9" r="7.6" fill="#fd34a8" stroke="#000" stroke-width="2"/>
<circle cx="1600.9" cy="1280.5" r="7.6" fill="#fd34a8" stroke="#000" stroke-width="2"/>
<circle cx="1632.0" cy="1301.9" r="7.6" fill="#fd34a8" stroke="#000" stroke-width="2"/>
<circle cx="1663.1" cy="1323.3" r="7.6" fill="#fd34a8" stroke="#000" stroke-width="2"/>
<circle cx="1694.2" cy="1237.3" r="7.6" fill="#fd34a8" stroke="#000" stroke-width="2"/>
<polyline points="1041.5,800.5 1072.6,936.7 1103.7,982.2 1134.7,868.1 1165.8,936.7 1196.9,1005.6 1228.0,1255.4 1259.1,1277.6 1290.1,1255.4 1321.2,1277.6 1352.3,1301.1 1383.4,1301.1 1414.5,1301.1 1445.5,1323.3 1476.6,1300.9 1507.7,1300.9 1538.8,1323.3 1569.9,1323.3 1600.9,1323.3 1632.0,1323.3 1663.1,1323.3 1694.2,1323.3" fill="none" stroke="#5fc5b5" stroke-width="5.8" stroke-linejoin="round"/>
<circle cx="1041.5" cy="800.5" r="7.6" fill="#5fc5b5" stroke="#000" stroke-width="2"/>
<circle cx="1072.6" cy="936.7" r="7.6" fill="#5fc5b5" stroke="#000" stroke-width="2"/>
<circle cx="1103.7" cy="982.2" r="7.6" fill="#5fc5b5" stroke="#000" stroke-width="2"/>
<circle cx="1134.7" cy="868.1" r="7.6" fill="#5fc5b5" stroke="#000" stroke-width="2"/>
<circle cx="1165.8" cy="936.7" r="7.6" fill="#5fc5b5" stroke="#000" stroke-width="2"/>
<circle cx="1196.9" cy="1005.6" r="7.6" fill="#5fc5b5" stroke="#000" stroke-width="2"/>
<circle cx="1228.0" cy="1255.4" r="7.6" fill="#5fc5b5" stroke="#000" stroke-width="2"/>
<circle cx="1259.1" cy="1277.6" r="7.6" fill="#5fc5b5" stroke="#000" stroke-width="2"/>
<circle cx="1290.1" cy="1255.4" r="7.6" fill="#5fc5b5" stroke="#000" stroke-width="2"/>
<circle cx="1321.2" cy="1277.6" r="7.6" fill="#5fc5b5" stroke="#000" stroke-width="2"/>
<circle cx="1352.3" cy="1301.1" r="7.6" fill="#5fc5b5" stroke="#000" stroke-width="2"/>
<circle cx="1383.4" cy="1301.1" r="7.6" fill="#5fc5b5" stroke="#000" stroke-width="2"/>
<circle cx="1414.5" cy="1301.1" r="7.6" fill="#5fc5b5" stroke="#000" stroke-width="2"/>
<circle cx="1445.5" cy="1323.3" r="7.6" fill="#5fc5b5" stroke="#000" stroke-width="2"/>
<circle cx="1476.6" cy="1300.9" r="7.6" fill="#5fc5b5" stroke="#000" stroke-width="2"/>
<circle cx="1507.7" cy="1300.9" r="7.6" fill="#5fc5b5" stroke="#000" stroke-width="2"/>
<circle cx="1538.8" cy="1323.3" r="7.6" fill="#5fc5b5" stroke="#000" stroke-width="2"/>
<circle cx="1569.9" cy="1323.3" r="7.6" fill="#5fc5b5" stroke="#000" stroke-width="2"/>
<circle cx="1600.9" cy="1323.3" r="7.6" fill="#5fc5b5" stroke="#000" stroke-width="2"/>
<circle cx="1632.0" cy="1323.3" r="7.6" fill="#5fc5b5" stroke="#000" stroke-width="2"/>
<circle cx="1663.1" cy="1323.3" r="7.6" fill="#5fc5b5" stroke="#000" stroke-width="2"/>
<circle cx="1694.2" cy="1323.3" r="7.6" fill="#5fc5b5" stroke="#000" stroke-width="2"/>
<text x="992.0" y="1333.1" font-size="33.5" text-anchor="end" textLength="18.3" lengthAdjust="spacingAndGlyphs">0</text>
<text x="992.0" y="1195.4" font-size="33.5" text-anchor="end" textLength="18.3" lengthAdjust="spacingAndGlyphs">5</text>
<text x="992.0" y="1057.7" font-size="33.5" text-anchor="end" textLength="36.6" lengthAdjust="spacingAndGlyphs">10</text>
<text x="992.0" y="919.9" font-size="33.5" text-anchor="end" textLength="36.6" lengthAdjust="spacingAndGlyphs">15</text>
<text x="992.0" y="782.2" font-size="33.5" text-anchor="end" textLength="36.6" lengthAdjust="spacingAndGlyphs">20</text>
<text x="1041.5" y="1380.8" font-size="33.5" text-anchor="middle" textLength="18.3" lengthAdjust="spacingAndGlyphs">0</text>
<text x="1103.7" y="1380.8" font-size="33.5" text-anchor="middle" textLength="18.3" lengthAdjust="spacingAndGlyphs">2</text>
<text x="1165.8" y="1380.8" font-size="33.5" text-anchor="middle" textLength="18.3" lengthAdjust="spacingAndGlyphs">4</text>
<text x="1228.0" y="1380.8" font-size="33.5" text-anchor="middle" textLength="18.3" lengthAdjust="spacingAndGlyphs">6</text>
<text x="1290.1" y="1380.8" font-size="33.5" text-anchor="middle" textLength="18.3" lengthAdjust="spacingAndGlyphs">8</text>
<text x="1352.3" y="1380.8" font-size="33.5" text-anchor="middle" textLength="36.6" lengthAdjust="spacingAndGlyphs">10</text>
<text x="1414.5" y="1380.8" font-size="33.5" text-anchor="middle" textLength="36.6" lengthAdjust="spacingAndGlyphs">12</text>
<text x="1476.6" y="1380.8" font-size="33.5" text-anchor="middle" textLength="36.6" lengthAdjust="spacingAndGlyphs">14</text>
<text x="1538.8" y="1380.8" font-size="33.5" text-anchor="middle" textLength="36.6" lengthAdjust="spacingAndGlyphs">16</text>
<text x="1600.9" y="1380.8" font-size="33.5" text-anchor="middle" textLength="36.6" lengthAdjust="spacingAndGlyphs">18</text>
<text x="1663.1" y="1380.8" font-size="33.5" text-anchor="middle" textLength="36.6" lengthAdjust="spacingAndGlyphs">20</text>
<circle cx="1032.1" cy="1497.8" r="8.2" fill="#fd34a8" stroke="#000" stroke-width="1.8"/>
<circle cx="1476.2" cy="1497.3" r="8.2" fill="#5fc5b5" stroke="#000" stroke-width="1.8"/>
<text x="-0.20" y="26.00" font-size="36.36" textLength="16.14" lengthAdjust="spacingAndGlyphs" style="">a</text>
<text x="894.60" y="29.30" font-size="38.21" textLength="19.76" lengthAdjust="spacingAndGlyphs" style="">b</text>
<text x="0.00" y="748.60" font-size="37.38" textLength="16.36" lengthAdjust="spacingAndGlyphs" style="">c</text>
<text x="906.60" y="748.60" font-size="37.71" textLength="19.56" lengthAdjust="spacingAndGlyphs" style="">d</text>
<text x="757.20" y="59.40" font-size="38.16" textLength="52.04" lengthAdjust="spacingAndGlyphs" style="">WT</text>
<text x="125.80" y="113.90" font-size="37.95" textLength="145.63" lengthAdjust="spacingAndGlyphs" style="">wide T4P</text>
<text x="592.60" y="102.00" font-size="35.44" textLength="116.07" lengthAdjust="spacingAndGlyphs" style="">narrow</text>
<text x="593.50" y="150.00" font-size="35.46" textLength="59.21" lengthAdjust="spacingAndGlyphs" style="">T4P</text>
<text x="378.20" y="400.90" font-size="36.81" textLength="60.79" lengthAdjust="spacingAndGlyphs" style="">T4P</text>
<text x="320.80" y="448.90" font-size="36.64" textLength="171.23" lengthAdjust="spacingAndGlyphs" style="">machinery</text>
<text x="1531.40" y="59.10" font-size="35.75" textLength="149.46" lengthAdjust="spacingAndGlyphs" style="font-style:italic;">pilA5::kat</text>
<text x="1222.20" y="236.70" font-size="37.68" textLength="224.21" lengthAdjust="spacingAndGlyphs" style="">wide T4P only</text>
<text x="1123.60" y="494.90" font-size="36.39" textLength="59.49" lengthAdjust="spacingAndGlyphs" style="">T4P</text>
<text x="1068.80" y="542.80" font-size="35.83" textLength="170.05" lengthAdjust="spacingAndGlyphs" style="">machinery</text>
<text x="279.60" y="1411.70" font-size="38.84" textLength="54.45" lengthAdjust="spacingAndGlyphs" style="">WT</text>
<text x="567.40" y="1411.70" font-size="37.84" textLength="149.88" lengthAdjust="spacingAndGlyphs" style="font-style:italic;">pilA5::kat</text>
<text x="118.00" y="1515.90" font-size="38.75" textLength="77.24" lengthAdjust="spacingAndGlyphs" style="">wide</text>
<text x="368.00" y="1515.90" font-size="36.91" textLength="115.28" lengthAdjust="spacingAndGlyphs" style="">narrow</text>
<text x="653.20" y="1515.90" font-size="38.75" textLength="165.70" lengthAdjust="spacingAndGlyphs" style="">undefined</text>
<text x="1221.00" y="1443.60" font-size="32.27" textLength="262.07" lengthAdjust="spacingAndGlyphs" style="">pili per cell pole</text>
<text x="1057.40" y="1517.00" font-size="35.81" textLength="51.84" lengthAdjust="spacingAndGlyphs" style="">WT</text>
<text x="1053.80" y="1565.00" font-size="37.25" textLength="367.86" lengthAdjust="spacingAndGlyphs" style="">(wide and narrow T4P)</text>
<text x="1501.80" y="1516.10" font-size="35.22" textLength="151.44" lengthAdjust="spacingAndGlyphs" style="font-style:italic;">pilA5::kat</text>
<text x="1500.80" y="1564.10" font-size="35.22" textLength="248.49" lengthAdjust="spacingAndGlyphs" style="">(wide T4P only)</text>
<text transform="translate(60.70,1269.40) rotate(-90)" x="0" y="0" font-size="37.08" textLength="362.70" lengthAdjust="spacingAndGlyphs">Number of pili per cell</text>
<text transform="translate(933.80,1155.20) rotate(-90)" x="0" y="0" font-size="38.38" textLength="212.27" lengthAdjust="spacingAndGlyphs">cell poles (%)</text>
</svg></body></html>
